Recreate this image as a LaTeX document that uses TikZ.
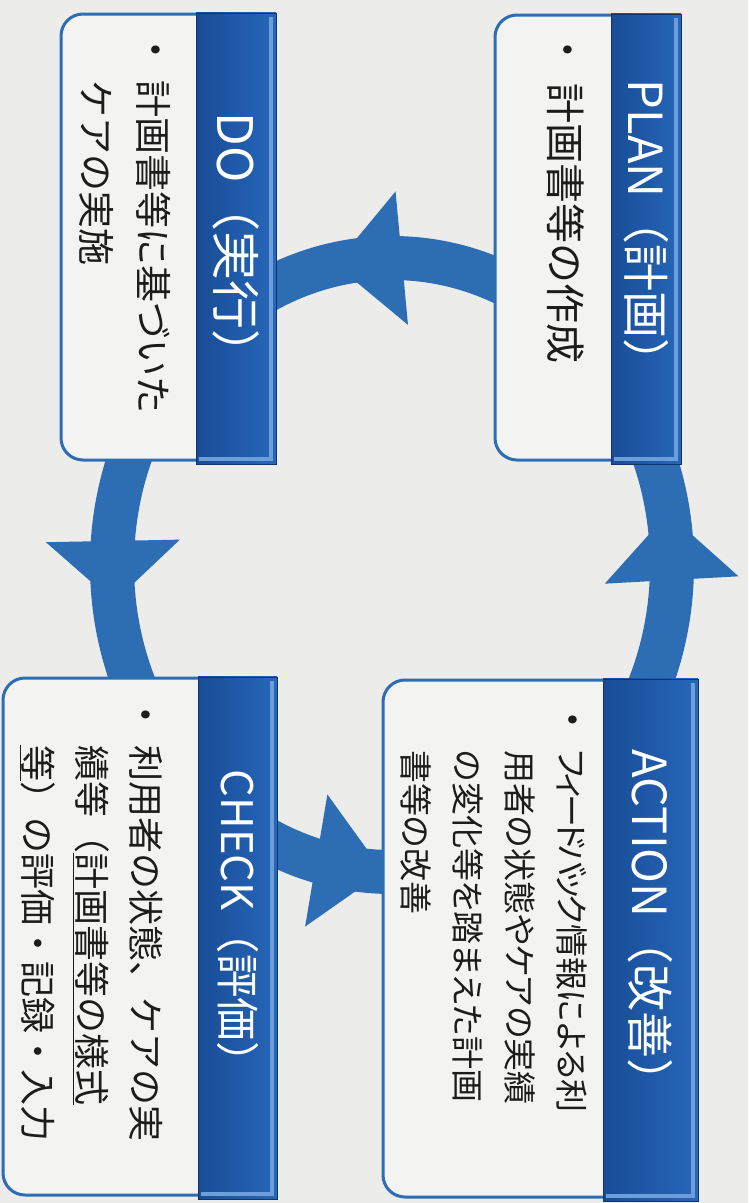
\documentclass[tikz,border=0pt]{standalone}
\usepackage{fontspec}
\setmainfont{Noto Sans CJK JP}
\newfontfamily\propjp[RawFeature=+palt]{Noto Sans CJK JP}
\usepackage{tikz}
\usetikzlibrary{calc, positioning}
\definecolor{paper}{HTML}{ECECEA}
\definecolor{panelfill}{HTML}{F3F3F1}
\definecolor{cycleblue}{HTML}{2C6DB4}
\definecolor{bandleft}{HTML}{184C96}
\definecolor{bandright}{HTML}{2767B9}
\definecolor{bandedge}{HTML}{6E9ED8}
\definecolor{ink}{HTML}{1C1C1C}
\tikzstyle{panel} = [rectangle, rounded corners=22pt, draw=cycleblue, line width=3pt, fill=panelfill, inner sep=0pt]
\tikzstyle{band} = [rectangle, anchor=north east, inner sep=0pt, left color=bandleft, right color=bandright, draw=bandleft!70!black, line width=0.8pt,
    path picture={
        \fill[bandedge] ([xshift=-7pt,yshift=-4pt]path picture bounding box.north east) rectangle ([xshift=-3pt,yshift=4pt]path picture bounding box.south east);
        \fill[bandedge] ([xshift=3pt,yshift=3pt]path picture bounding box.south west) rectangle ([xshift=-3pt,yshift=7pt]path picture bounding box.south east);
    }]
\tikzstyle{headtext} = [rotate=-90, anchor=west, inner sep=0pt, text=white, font=\fontsize{46}{50}\selectfont]
\tikzstyle{body} = [rotate=-90, anchor=base west, align=left, inner sep=0pt, text=ink]
\tikzstyle{bulletmark} = [rotate=-90, inner sep=0pt, text=ink, font=\fontsize{32}{32}\selectfont]
\tikzstyle{ring} = [draw=cycleblue, line width=44pt]

\begin{document}
\begin{tikzpicture}[x=1pt, y=-1pt]
    %背景
    \useasboundingbox (0,0) rectangle (748,1203);
    \fill[paper] (0,0) rectangle (748,1203);

    %循環の矢印
    \coordinate (cyc) at (392,565);
    \draw[ring] (cyc) ellipse [x radius=280, y radius=307];
    \foreach \back/\tip in {-88/-101.7, 184.5/173.1, 105.7/91.8, 2.8/-9.7}{
        \coordinate (b) at ($(cyc)+(\back:280 and 307)$);
        \coordinate (t) at ($(cyc)+(\tip:280 and 307)$);
        \fill[cycleblue] ($(b)!67pt!90:(t)$) -- (t) -- ($(b)!67pt!-90:(t)$) -- cycle;
    }

    %四つの枠
    \node (planbox) [panel, minimum width=185pt, minimum height=445pt] at (587.5,237.5) {};
    \node (dobox) [panel, minimum width=214pt, minimum height=446pt] at (168,237) {};
    \node (checkbox) [panel, minimum width=273pt, minimum height=517pt] at (139.5,936.5) {};
    \node (actionbox) [panel, minimum width=314pt, minimum height=517pt] at (540,938.5) {};

    %見出しの帯
    \node (planband) [band, minimum width=70pt, minimum height=450pt] at (planbox.north east) {};
    \node (doband) [band, minimum width=80pt, minimum height=451pt] at (dobox.north east) {};
    \node (checkband) [band, minimum width=79pt, minimum height=522pt] at (checkbox.north east) {};
    \node (actionband) [band, minimum width=95pt, minimum height=522pt] at (actionbox.north east) {};

    \node (plan) [headtext, font=\fontsize{47}{50}\selectfont] at ($(planband.north)+(0,66)$) {PLAN（計画）};
    \node (do) [headtext, font=\fontsize{49}{50}\selectfont] at ($(doband.north)+(0,100)$) {DO（実行）};
    \node (check) [headtext, font=\fontsize{43.5}{50}\selectfont] at ($(checkband.north)+(0,93)$) {CHECK（評価）};
    \node (action) [headtext, font=\fontsize{47}{50}\selectfont] at ($(actionband.north)+(0,71)$) {ACTION（改善）};

    %本文（base は最終行）
    \node (plandot) [bulletmark] at (565,50) {•};
    \node (plantext) [body, font=\fontsize{40}{57}\selectfont] at (550,83) {計画書等の作成};
    \node (dodot) [bulletmark] at (153,50) {•};
    \node (dotext) [body, font=\fontsize{37}{57}\selectfont] at (82,80) {計画書等に基づいた\\ケアの実施};
    \node (checkdot) [bulletmark] at (143,715) {•};
    \node (checktext) [body, font=\fontsize{36}{54}\selectfont] at (24,745)
        {利用者の状態、ケアの実\\績等（\underline{計画書等の様式}\\\underline{等}）の評価・記録・入力};
    \node (actiondot) [bulletmark] at (570,720) {•};
    \node (actiontext) [body, font=\fontsize{33}{52}\selectfont\propjp] at (403,750)
        {{\addfontfeature{LetterSpace=-12}フィードバック}情報による利\\用者の状態やケアの実績\\の変化等を踏まえた計画\\書等の改善};
\end{tikzpicture}
\end{document}
